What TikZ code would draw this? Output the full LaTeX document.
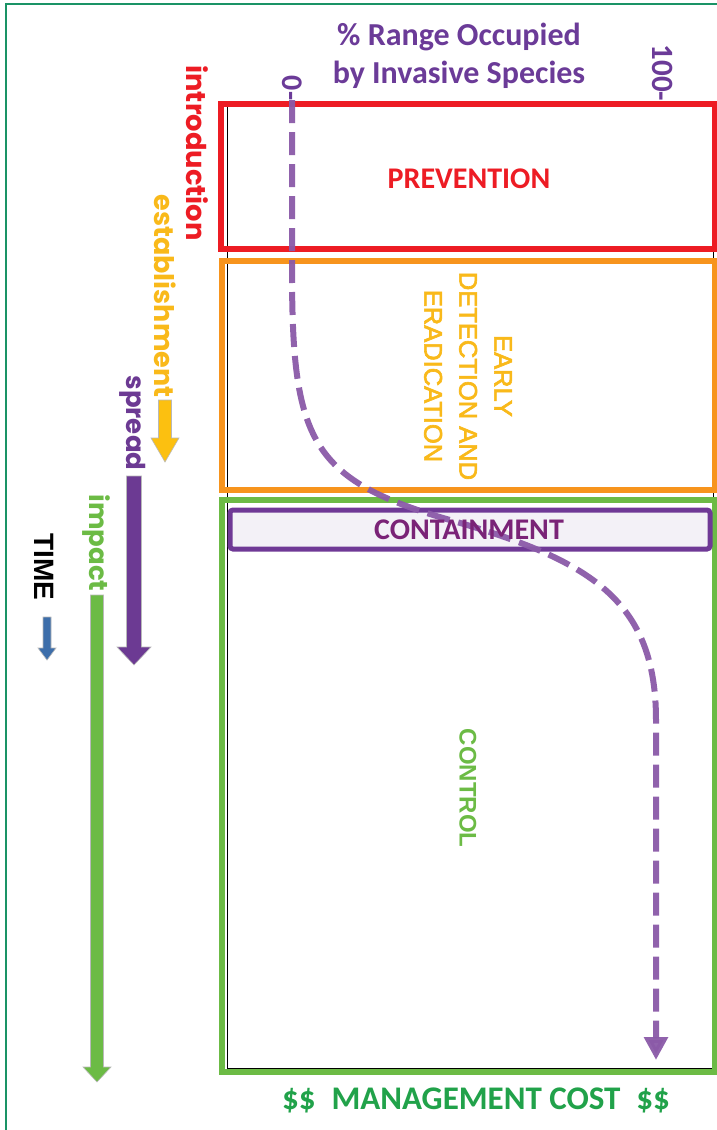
\documentclass[tikz,border=0pt]{standalone}
\usepackage{fontspec}
\newfontfamily\calfont{Carlito}
\newfontfamily\arifont{Liberation Sans}
\newfontfamily\arimedfont[FakeBold=2.5]{Liberation Sans}
\newfontfamily\geofont{Poppins}
\usetikzlibrary{arrows.meta}
\definecolor{framegreen}{HTML}{1A9366}
\definecolor{prevred}{HTML}{ED1C24}
\definecolor{edorange}{HTML}{F7941D}
\definecolor{ctrlgreen}{HTML}{6CBB45}
\definecolor{contpurple}{HTML}{6F3996}
\definecolor{contfill}{HTML}{F3F1F7}
\definecolor{conttext}{HTML}{7A2377}
\definecolor{titlepurple}{HTML}{6B3B98}
\definecolor{edyellow}{HTML}{F9B91A}
\definecolor{arryellow}{HTML}{FCC010}
\definecolor{sprpurple}{HTML}{6C3A93}
\definecolor{costgreen}{HTML}{21A24A}
\definecolor{curvepurple}{HTML}{8B5AA8}
\definecolor{timeblue}{HTML}{3D6EAA}
\newcommand\vertarrow[7]{%
  \filldraw[fill=#7,draw=gray!55,line width=0.6pt]
    (#1-#4/2,#2) -- (#1+#4/2,#2) -- (#1+#4/2,#3-#6) -- (#1+#5/2,#3-#6)
    -- (#1,#3) -- (#1-#5/2,#3-#6) -- (#1-#4/2,#3-#6) -- cycle;}
\begin{document}
\begin{tikzpicture}[x=1pt,y=-1pt,
  vtext/.style={rotate=-90,inner sep=0pt,anchor=center},
  phasebox/.style={line width=6pt}]
\useasboundingbox (0,0) rectangle (717,1130);
\fill[white] (0,0) rectangle (717,1130);
% outer frame
\draw[framegreen,line width=2.5pt] (6,1135) -- (6,4) -- (720,4);
% plot area
\draw[black,line width=1pt] (227,106) rectangle (713,1068);
% phase boxes
\draw[phasebox,prevred] (221,104) rectangle (714.5,249);
\draw[phasebox,edorange] (222,261) rectangle (714.5,490);
\draw[phasebox,ctrlgreen] (222,500) rectangle (714.5,1072);
\draw[line width=5pt,contpurple,fill=contfill,rounded corners=3pt] (230,510) rectangle (710,549);
% box labels
\node[inner sep=0pt,text=prevred,font=\calfont\bfseries\fontsize{30}{32}\selectfont] (prev) at (469,179) {PREVENTION};
\node[vtext,align=center,text=edyellow,font=\arimedfont\fontsize{25.5}{35}\selectfont] (edr) at (468,376) {EARLY\\DETECTION AND\\ERADICATION};
\node[vtext,text=ctrlgreen,font=\arifont\bfseries\fontsize{24}{28}\selectfont] (ctrl) at (468,788) {CONTROL};
% curve
\draw[curvepurple,opacity=0.95,line width=6pt,dash pattern=on 23pt off 9pt,-{Triangle[width=23pt,length=23pt]}]
  (292,100) -- (292,270) .. controls (292,440) and (310,480) .. (450,520)
  .. controls (590,560) and (656,600) .. (656,720) -- (656,1060);
\node[inner sep=0pt,text=conttext,font=\calfont\bfseries\fontsize{30}{32}\selectfont] (cont) at (469,530) {CONTAINMENT};
% title and axis ticks
\node[align=center,inner sep=0pt,text=titlepurple,font=\calfont\bfseries\fontsize{32}{38}\selectfont] (title) at (459,56) {\% Range Occupied\\by Invasive Species};
\node[vtext,text=titlepurple,font=\calfont\bfseries\fontsize{30}{32}\selectfont] (zero) at (292,88) {0-};
\node[vtext,text=titlepurple,font=\calfont\bfseries\fontsize{31}{32}\selectfont] (hund) at (663,73) {100-};
% cost
\node[inner sep=0pt,text=costgreen,font=\calfont\bfseries\fontsize{33}{36}\selectfont] (cost) at (476,1100) {\$\$\hspace{16pt}MANAGEMENT COST\hspace{16pt}\$\$};
% time line labels
\node[vtext,text=prevred,font=\geofont\bfseries\fontsize{27.3}{28}\selectfont] (intro) at (197,153) {introduction};
\node[vtext,text=edyellow,font=\geofont\bfseries\fontsize{27}{28}\selectfont] (estab) at (165,296) {establishment};
\node[vtext,text=sprpurple,font=\geofont\bfseries\fontsize{26}{28}\selectfont] (spread) at (133,423) {spread};
\node[vtext,text=ctrlgreen,font=\geofont\bfseries\fontsize{26}{28}\selectfont] (impact) at (96,543) {impact};
\node[vtext,text=black,font=\arifont\bfseries\fontsize{28}{30}\selectfont] (time) at (44,567) {TIME};
% time arrows
\vertarrow{165}{400}{462}{13}{28}{24}{arryellow}
\vertarrow{134}{476}{665}{15}{34}{18}{sprpurple}
\vertarrow{97}{595}{1082}{13}{28}{15}{ctrlgreen}
\vertarrow{47}{617}{660}{8}{18}{12}{timeblue}
\end{tikzpicture}
\end{document}
